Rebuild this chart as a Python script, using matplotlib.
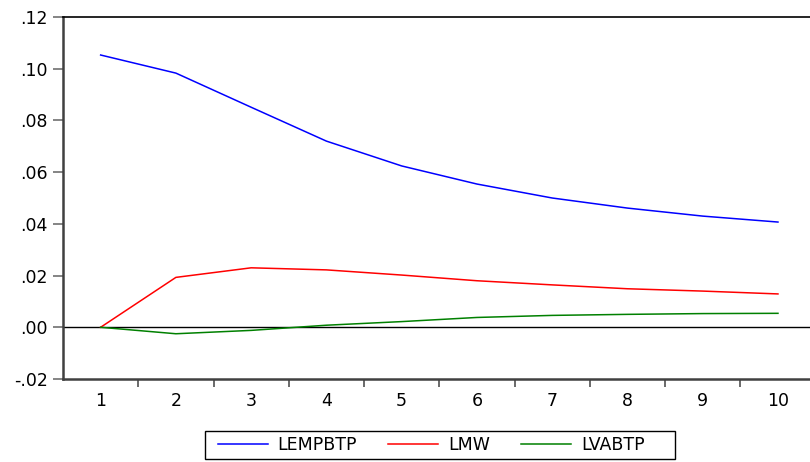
import numpy as np
import matplotlib
matplotlib.use("Agg")
import matplotlib.pyplot as plt
from matplotlib.patches import Rectangle
from matplotlib.ticker import FuncFormatter, FixedLocator

plt.rcParams['font.family'] = ['DejaVu Sans']

periods = [1, 2, 3, 4, 5, 6, 7, 8, 9, 10]
lempbtp = [0.1053, 0.0983, 0.0851, 0.0720, 0.0624, 0.0554, 0.0500, 0.0461, 0.0430, 0.0407]
lmw = [0.0, 0.0193, 0.0230, 0.0222, 0.0202, 0.0180, 0.0164, 0.0149, 0.0140, 0.0129]
lvabtp = [0.0, -0.0025, -0.0012, 0.0008, 0.0022, 0.0038, 0.0046, 0.0050, 0.0053, 0.0054]
series_names = ["LEMPBTP", "LMW", "LVABTP"]
series_colors = ["#0000ff", "#ff0000", "#008000"]

W, H = 810, 462
fig = plt.figure(figsize=(W / 100, H / 100), dpi=100)
left, right, top, bottom = 63, 815.6, 17, 379
ax = fig.add_axes([left / W, 1 - bottom / H, (right - left) / W, (bottom - top) / H])

for vals, name, col in zip([lempbtp, lmw, lvabtp], series_names, series_colors):
    ax.plot(periods, vals, color=col, lw=1.1, label=name)

ax.axhline(0, color="black", lw=1.0, zorder=0)

ax.set_xlim(0.5, 10.5)
ax.set_ylim(-0.02, 0.12)

fs = 12.5
ax.set_yticks(np.arange(-0.02, 0.121, 0.02))
ax.yaxis.set_major_formatter(FuncFormatter(
    lambda v, p: ("-" if v < -1e-9 else "") + ("%.2f" % abs(v)).lstrip("0")))
ax.tick_params(axis="y", direction="out", length=7, width=1.2, color="#707070",
               pad=4, labelsize=fs, labelcolor="black")

ax.set_xticks(periods)
ax.xaxis.set_minor_locator(FixedLocator(np.arange(1.5, 10.0, 1.0)))
ax.tick_params(axis="x", which="major", length=0, pad=9, labelsize=fs)
ax.tick_params(axis="x", which="minor", direction="out", length=5.5, width=1.2,
               color="#505050")

for side in ("left", "bottom"):
    ax.spines[side].set_linewidth(1.8)
    ax.spines[side].set_color("#404040")
ax.spines["top"].set_linewidth(1.2)
ax.spines["top"].set_color("black")
ax.spines["right"].set_visible(False)

# legend entries without their own frame; a separate box is drawn around them
leg = fig.legend(loc="center left", bbox_to_anchor=(218 / W, 1 - 445 / H),
                 ncol=3, fontsize=fs, frameon=False,
                 handlelength=2.87, handletextpad=0.57,
                 columnspacing=1.8, borderpad=0, borderaxespad=0)

bx0, bx1, by0, by1 = 205, 675, 431, 459
fig.patches.append(Rectangle((bx0 / W, 1 - by1 / H), (bx1 - bx0) / W, (by1 - by0) / H,
                             transform=fig.transFigure, fill=False,
                             edgecolor="black", linewidth=1.0))

fig.savefig("out.png", dpi=100)
